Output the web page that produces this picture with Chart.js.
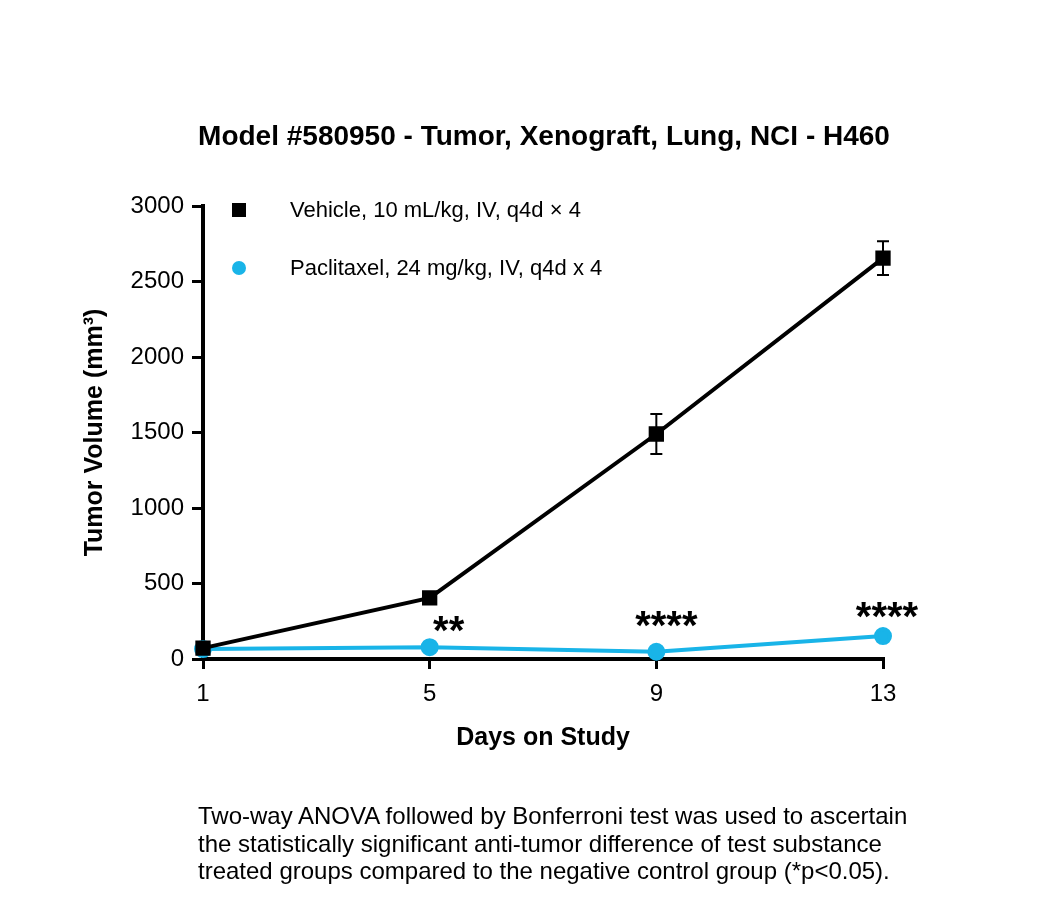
<!DOCTYPE html>
<html>
<head>
<meta charset="utf-8">
<script src="https://cdn.jsdelivr.net/npm/chart.js@4.4.1/dist/chart.umd.min.js"></script>
<style>
  html, body { margin: 0; padding: 0; background: #fff; }
  #wrap { position: relative; width: 1050px; height: 917px; }
  #note {
    position: absolute; left: 198px; top: 802px;
    font-family: "Liberation Sans", Arial, sans-serif;
    font-size: 24px; line-height: 27.5px; color: #000;
  }
</style>
</head>
<body>
<div id="wrap">
  <canvas id="tumorChart" width="1050" height="917"></canvas>
  <div id="note">Two-way ANOVA followed by Bonferroni test was used to ascertain<br>the statistically significant anti-tumor difference of test substance<br>treated groups compared to the negative control group (*p&lt;0.05).</div>
</div>
<script>
const days = [1, 5, 9, 13];
const vehicle = [72, 405, 1490, 2655];
const vehicleErr = [0, 0, 133, 112];
const paclitaxel = [66, 78, 48, 152];
const paclitaxelErr = [0, 0, 0, 0];
const stars = ["", "**", "****", "****"];
const yTicks = [0, 500, 1000, 1500, 2000, 2500, 3000];

const FONT = "'Liberation Sans', Arial, sans-serif";
const BLUE = "#19b4e8";

function points(values) {
    return days.map(function (d, i) { return { x: d, y: values[i] }; });
}

// error bars with caps
const errorBars = {
    id: "errorBars",
    afterDatasetsDraw: function (chart) {
        const ctx = chart.ctx;
        const xs = chart.scales.x, ys = chart.scales.y;
        [[vehicle, vehicleErr, "#000"], [paclitaxel, paclitaxelErr, BLUE]].forEach(function (s) {
            ctx.save();
            ctx.strokeStyle = s[2];
            ctx.lineWidth = 2;
            days.forEach(function (d, i) {
                if (!s[1][i]) return;
                const px = xs.getPixelForValue(d);
                const top = ys.getPixelForValue(s[0][i] + s[1][i]);
                const bot = ys.getPixelForValue(s[0][i] - s[1][i]);
                ctx.beginPath();
                ctx.moveTo(px, top); ctx.lineTo(px, bot);
                ctx.moveTo(px - 6, top); ctx.lineTo(px + 6, top);
                ctx.moveTo(px - 6, bot); ctx.lineTo(px + 6, bot);
                ctx.stroke();
            });
            ctx.restore();
        });
    }
};

// significance stars, title and in-plot legend
const extras = {
    id: "extras",
    afterDraw: function (chart) {
        const ctx = chart.ctx;
        const xs = chart.scales.x, ys = chart.scales.y;
        ctx.save();
        ctx.fillStyle = "#000";
        ctx.textAlign = "center";
        ctx.textBaseline = "alphabetic";
        ctx.font = "bold 40px " + FONT;
        const offs = [[0, 0], [19, 3], [10, 13], [4, 6]];
        days.forEach(function (d, i) {
            if (!stars[i]) return;
            const px = xs.getPixelForValue(d) + offs[i][0];
            const py = ys.getPixelForValue(paclitaxel[i]) - offs[i][1];
            ctx.fillText(stars[i], px, py);
        });

        ctx.textBaseline = "middle";
        ctx.font = "bold 28px " + FONT;
        ctx.fillText("Model #580950 - Tumor, Xenograft, Lung, NCI - H460", 544, 137);

        ctx.textAlign = "left";
        ctx.font = "22px " + FONT;
        const ds = chart.data.datasets;
        ctx.fillStyle = "#000";
        ctx.fillRect(232, 203, 14, 14);
        ctx.fillText(ds[0].label, 290, 211);
        ctx.fillStyle = BLUE;
        ctx.beginPath();
        ctx.arc(239, 268, 7, 0, Math.PI * 2);
        ctx.fill();
        ctx.fillStyle = "#000";
        ctx.fillText(ds[1].label, 290, 269);
        ctx.restore();
    }
};

const config = {
    type: "line",
    data: {
        datasets: [{
            label: "Vehicle, 10 mL/kg, IV, q4d \u00d7 4",
            data: points(vehicle),
            borderColor: "#000",
            backgroundColor: "#000",
            borderWidth: 4,
            pointStyle: "rect",
            pointRadius: 8,
            pointHoverRadius: 8,
            clip: false
        }, {
            label: "Paclitaxel, 24 mg/kg, IV, q4d x 4",
            data: points(paclitaxel),
            borderColor: BLUE,
            backgroundColor: BLUE,
            borderWidth: 4,
            pointStyle: "circle",
            pointRadius: 7,
            pointHoverRadius: 7,
            clip: false
        }]
    },
    options: {
        responsive: false,
        animation: false,
        devicePixelRatio: 1,
        layout: { padding: { top: 206, right: 167, bottom: 158, left: 0 } },
        plugins: {
            legend: { display: false },
            tooltip: { enabled: false }
        },
        scales: {
            x: {
                type: "linear",
                min: 1,
                max: 13,
                afterBuildTicks: function (scale) {
                    scale.ticks = days.map(function (d) { return { value: d }; });
                },
                afterFit: function (scale) { scale.height = 100; },
                grid: { drawOnChartArea: false, drawTicks: true, tickLength: 10, lineWidth: 3, color: "#000" },
                border: { display: true, width: 4, color: "#000" },
                ticks: {
                    color: "#000", padding: 11, font: { family: FONT, size: 24 },
                    callback: function (v) { return String(v); }
                },
                title: {
                    display: true, text: "Days on Study", color: "#000",
                    font: { family: FONT, size: 25, weight: "bold" },
                    padding: { top: 0, bottom: 6 }
                }
            },
            y: {
                min: 0,
                max: 3000,
                afterBuildTicks: function (scale) {
                    scale.ticks = yTicks.map(function (v) { return { value: v }; });
                },
                afterFit: function (scale) { scale.width = 203; },
                grid: { drawOnChartArea: false, drawTicks: true, tickLength: 11, lineWidth: 3, color: "#000" },
                border: { display: true, width: 4, color: "#000" },
                ticks: {
                    color: "#000", padding: 8, font: { family: FONT, size: 24 },
                    callback: function (v) { return String(v); }
                },
                title: {
                    display: true, text: "Tumor Volume (mm\u00b3)", color: "#000",
                    font: { family: FONT, size: 25, weight: "bold" },
                    padding: { top: 80, bottom: 0 }
                }
            }
        }
    },
    plugins: [errorBars, extras]
};

new Chart(document.getElementById("tumorChart"), config);
</script>
</body>
</html>
